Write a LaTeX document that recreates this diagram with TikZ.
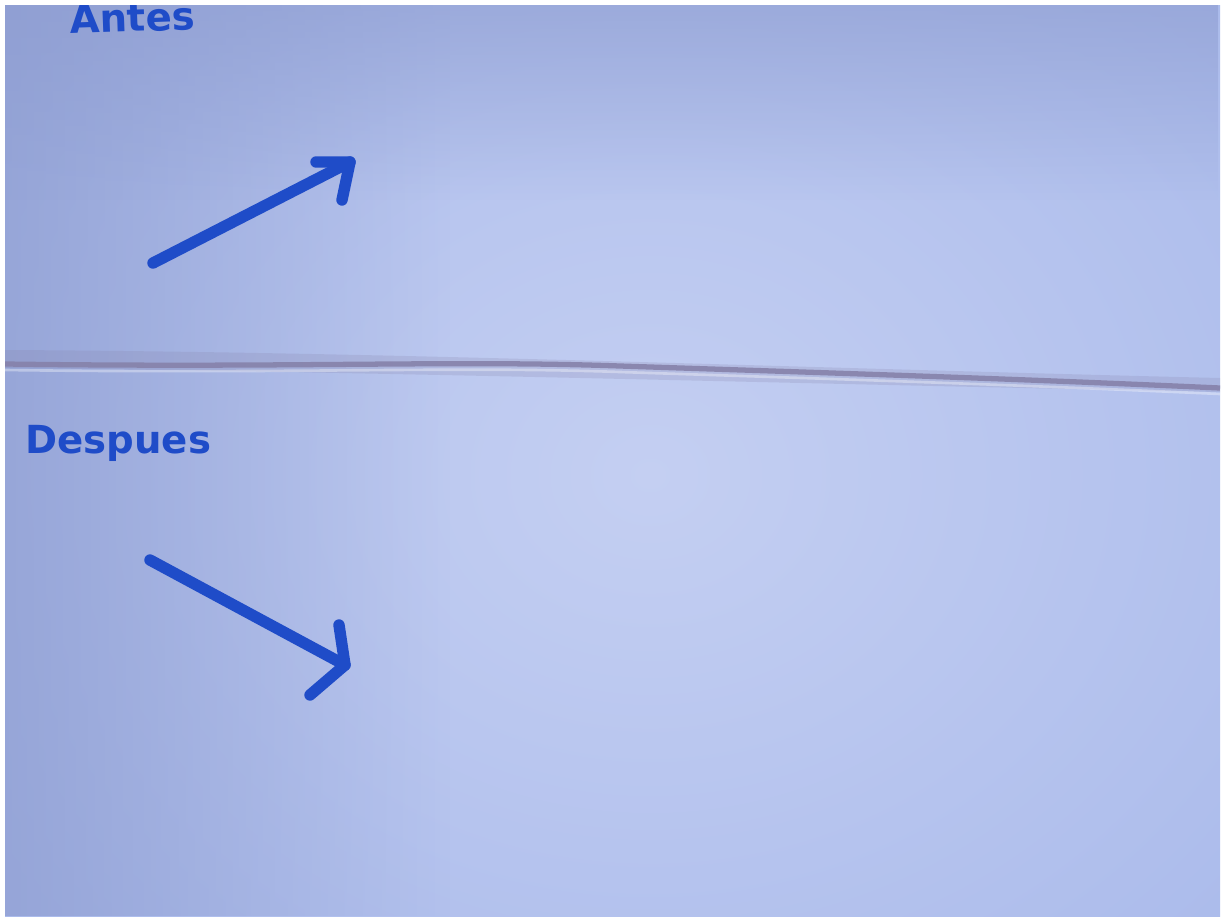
\documentclass[tikz,border=0pt]{standalone}
\usepackage{fontspec}
\newfontfamily\hand{DejaVu Sans}
\usetikzlibrary{fadings}
\tikzfading[name=fadeR, left color=transparent!0, right color=transparent!100]
\tikzfading[name=fadeD, top color=transparent!0, bottom color=transparent!100]
\definecolor{ink}{HTML}{1F4CC8}
\definecolor{paperA}{HTML}{8D9CD0}
\definecolor{paperB}{HTML}{C4CFF2}
\definecolor{paperC}{HTML}{ABBBEB}
\definecolor{fold}{HTML}{8682AA}
\tikzset{
  pen/.style={draw=ink, line width=6.5pt, line cap=round, line join=round},
  label/.style={text=ink, anchor=base west, inner sep=0pt, font=\hand\bfseries\fontsize{22}{22}\selectfont},
}
\begin{document}
\begin{tikzpicture}[x=0.02cm,y=-0.02cm]
\useasboundingbox (0,0) rectangle (1222,916);
\fill[white] (0,0) rectangle (1222,916);
\begin{scope}
\clip (5,5) rectangle (1220,916);
\shade[inner color=paperB, outer color=paperC] (-150,-200) rectangle (1450,1150);
\fill[paperA, opacity=0.7, path fading=fadeR] (5,5) rectangle (450,916);
\fill[paperA, opacity=0.6, path fading=fadeD] (5,5) rectangle (1220,200);
% fold shadow and crease
\fill[fold, opacity=0.22] (5,350) .. controls (400,352) and (800,368) .. (1220,378) -- (1220,392) .. controls (800,384) and (400,372) .. (5,368) -- cycle;
\draw[fold, line width=3pt, opacity=0.9] (5,364) .. controls (300,368) and (450,360) .. (620,366) .. controls (800,372) and (1000,378) .. (1220,388);
\draw[white, opacity=0.35, line width=1.5pt] (5,370) .. controls (300,374) and (450,366) .. (620,372) .. controls (800,378) and (1000,384) .. (1220,394);
% labels
\node[label, rotate=2] (antes) at (70,34) {Antes};
\node[label] (despues) at (25,453) {Despues};
% arrow 1
\coordinate (a1s) at (153,263);
\coordinate (a1e) at (350,162);
\coordinate (a1l) at (316,162);
\coordinate (a1r) at (342,200);
\draw[pen] (a1s) -- (a1e);
\draw[pen] (a1l) -- (a1e) -- (a1r);
% arrow 2
\coordinate (a2s) at (150,560);
\coordinate (a2e) at (345,665);
\coordinate (a2l) at (339,625);
\coordinate (a2r) at (310,695);
\draw[pen] (a2s) -- (a2e);
\draw[pen] (a2l) -- (a2e) -- (a2r);
\end{scope}
\end{tikzpicture}
\end{document}
